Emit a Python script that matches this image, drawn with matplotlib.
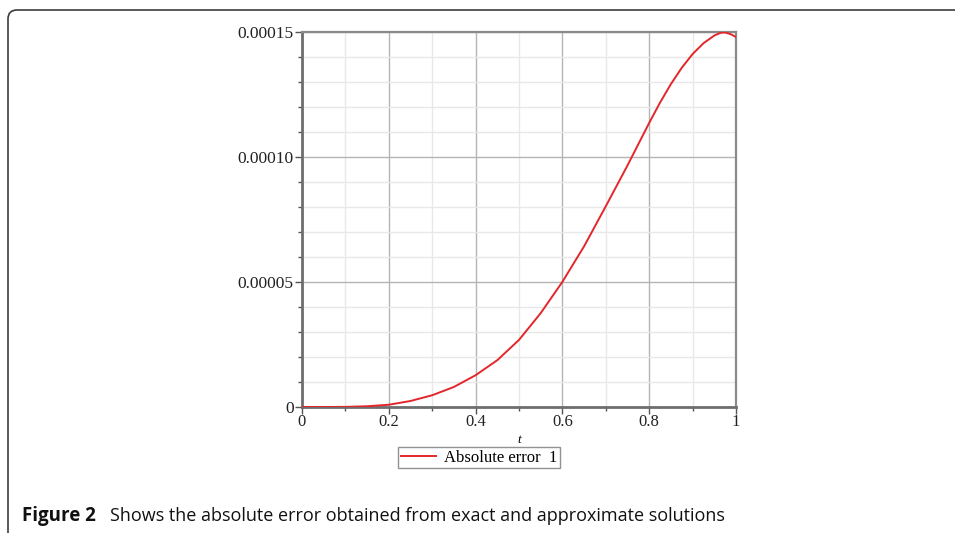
import matplotlib
matplotlib.use("Agg")
import matplotlib.pyplot as plt
from matplotlib.patches import FancyBboxPatch
from matplotlib.transforms import IdentityTransform
from matplotlib.ticker import MultipleLocator, FixedLocator

# Data
t_vals = [0.0, 0.05, 0.1, 0.15, 0.2, 0.25, 0.3, 0.35, 0.4, 0.45, 0.5, 0.55, 0.6,
          0.65, 0.7, 0.75, 0.8, 0.825, 0.85, 0.875, 0.9, 0.925, 0.95, 0.965, 0.975, 0.988, 1.0]
abs_err = [0.0, 0.0, 0.05e-6, 0.3e-6, 0.9e-6, 2.4e-6, 4.7e-6, 8.0e-6, 12.7e-6, 18.7e-6,
           26.8e-6, 37.5e-6, 50.0e-6, 64.2e-6, 80.2e-6, 96.5e-6, 113.5e-6, 121.6e-6,
           129.0e-6, 135.5e-6, 141.0e-6, 145.3e-6, 148.4e-6, 149.5e-6, 149.6e-6, 148.9e-6, 147.8e-6]
x_ticks = [0, 0.2, 0.4, 0.6, 0.8, 1.0]
x_tick_labels = ["0", "0.2", "0.4", "0.6", "0.8", "1"]
y_ticks = [0, 0.00005, 0.00010, 0.00015]
y_tick_labels = ["0", "0.00005", "0.00010", "0.00015"]
legend_label = "Absolute error  1"
x_label = "t"
caption_bold = "Figure 2"
caption_text = "Shows the absolute error obtained from exact and approximate solutions"

W, H = 955, 533
fig = plt.figure(figsize=(W / 100, H / 100), dpi=100)
fig.patch.set_facecolor("white")

# rounded frame
frame = FancyBboxPatch((8, -40), 1000, H - 10 + 40,
                       boxstyle="round,pad=0,rounding_size=9",
                       transform=IdentityTransform(), facecolor="none",
                       edgecolor="#3c3c3c", linewidth=1.2, zorder=0)
fig.patches.append(frame)

ax = fig.add_axes([302 / W, 1 - 407 / H, 434 / W, (407 - 31.5) / H])
ax.plot(t_vals, abs_err, color="#e3262b", linewidth=1.4, zorder=3)
ax.set_xlim(0, 1)
ax.set_ylim(0, 0.00015)

serif = "Liberation Serif"
ax.xaxis.set_major_locator(FixedLocator(x_ticks))
ax.yaxis.set_major_locator(FixedLocator(y_ticks))
ax.set_xticklabels(x_tick_labels, fontfamily=serif, fontsize=12, color="#222222")
ax.set_yticklabels(y_tick_labels, fontfamily=serif, fontsize=12.5, color="#222222")
ax.xaxis.set_minor_locator(MultipleLocator(0.1))
ax.yaxis.set_minor_locator(MultipleLocator(0.00001))

ax.grid(which="major", color="#b4b4b4", linewidth=1.0, zorder=1)
ax.grid(which="minor", color="#e8e8e8", linewidth=1.0, zorder=1)
ax.set_axisbelow(True)

ax.tick_params(which="major", direction="out", length=5, width=1.0, color="#555555", pad=1)
ax.tick_params(which="minor", direction="out", length=3, width=1.0, color="#555555")
ax.tick_params(axis="x", which="major", pad=0)

for side in ["left", "bottom"]:
    ax.spines[side].set_color("#6e6e6e")
    ax.spines[side].set_linewidth(2.0)
for side in ["top", "right"]:
    ax.spines[side].set_color("#8a8a8a")
    ax.spines[side].set_linewidth(1.6)

ax.set_xlabel(x_label, fontfamily=serif, fontstyle="italic", fontsize=9.5, labelpad=3)

leg = fig.legend([ax.lines[0]], [legend_label], loc="center",
                 bbox_to_anchor=(479 / W, 1 - 457.5 / H),
                 prop={"family": serif, "size": 12}, frameon=True, fancybox=False,
                 handlelength=2.1, handletextpad=0.5, borderpad=0.15, borderaxespad=0)
leg.get_frame().set_edgecolor("#777777")
leg.get_frame().set_linewidth(1.0)

fig.text(22 / W, 1 - 521 / H, caption_bold, fontfamily="Open Sans", fontweight="bold",
         fontsize=13.5, color="#111111", va="baseline", ha="left")
fig.text(110 / W, 1 - 521 / H, caption_text, fontfamily="Open Sans",
         fontsize=13, color="#111111", va="baseline", ha="left")

fig.savefig("out.png", dpi=100, facecolor="white")
